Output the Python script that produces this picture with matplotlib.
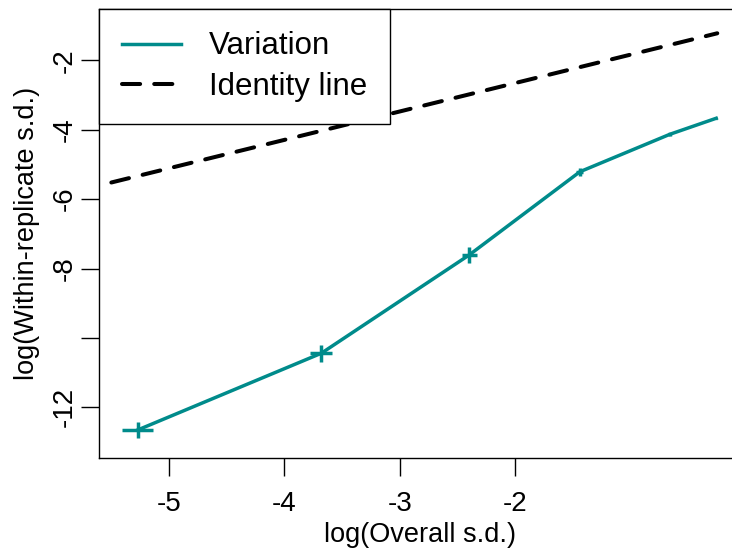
import matplotlib
matplotlib.use("Agg")
import matplotlib.pyplot as plt

plt.rcParams['font.family'] = ['Liberation Sans', 'DejaVu Sans']

# values
overall_sd = [-5.27, -3.68, -2.40, -1.44, -0.66, -0.26]
within_sd = [-12.65, -10.44, -7.61, -5.21, -4.13, -3.67]
x_err = [0.134, 0.095, 0.065, 0.030, 0.013, 0.005]
y_err = [0.23, 0.24, 0.22, 0.115, 0.045, 0.02]
identity_x = [-5.50, -0.25]
identity_y = [-5.52, -1.22]

xticks = [-5, -4, -3, -2]
xtick_labels = ['-5', '-4', '-3', '-2']
yticks = [-12, -10, -8, -6, -4, -2]
ytick_labels = ['-12', '', '-8', '-6', '-4', '-2']

teal = '#008b8b'

fig = plt.figure(figsize=(7.32, 5.52), dpi=100)
ax = fig.add_axes([99/732, 94/552, 641/732, 449/552])

ax.plot(overall_sd, within_sd, color=teal, lw=2.5, label='Variation')
ax.errorbar(overall_sd, within_sd, xerr=x_err, yerr=y_err, fmt='none',
            ecolor=teal, elinewidth=2.5, capsize=0)
ax.plot(identity_x, identity_y, color='black', lw=2.9, ls=(0, (4.5, 3.5)),
        dash_capstyle='round', label='Identity line')

ax.set_xlim(-5.607, -0.053)
ax.set_ylim(-13.46, -0.52)
ax.set_xticks(xticks)
ax.set_xticklabels(xtick_labels)
ax.set_yticks(yticks)
ax.set_yticklabels(ytick_labels, rotation=90, va='center')
ax.tick_params(axis='both', direction='out', length=13, width=1.0,
               labelsize=20, color='black')
ax.tick_params(axis='x', pad=11)
ax.tick_params(axis='y', pad=2)
for s in ax.spines.values():
    s.set_linewidth(1.0)

ax.set_xlabel('log(Overall s.d.)', fontsize=19.5, labelpad=3)
ax.set_ylabel('log(Within-replicate s.d.)', fontsize=19.5, labelpad=9)

leg = ax.legend(loc='upper left', borderaxespad=0, fancybox=False,
                edgecolor='black', framealpha=1, fontsize=22.5,
                borderpad=0.72, labelspacing=0.33, handlelength=1.9,
                handletextpad=0.9)
leg.get_frame().set_linewidth(1.0)

fig.savefig('out.png', dpi=100)
